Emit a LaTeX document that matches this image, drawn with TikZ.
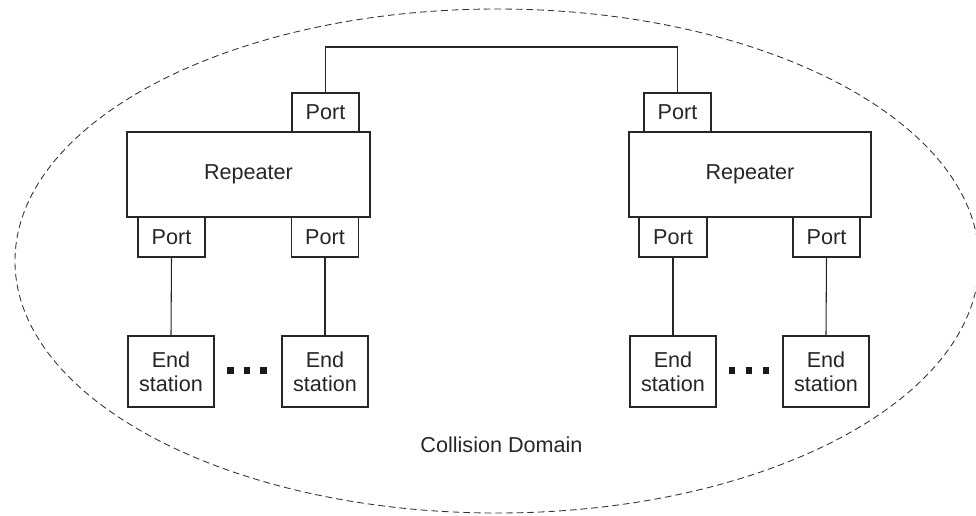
\documentclass[tikz,border=0pt]{standalone}
\usepackage{fontspec}
\setmainfont{Liberation Sans}
\tikzset{
  netbox/.style={draw=black!85, line width=0.8pt, fill=white, inner sep=0pt, align=center,
    text=black!85, font=\fontsize{16.2}{18}\selectfont},
  wh/.style 2 args={minimum width=#1*0.75pt, minimum height=#2*0.75pt},
  netlink/.style={draw=black!85, line width=0.8pt},
  sqdot/.style={fill=black!90, inner sep=0pt, minimum size=5.2pt},
  cdomain/.style={draw=black!80, line width=0.65pt, dash pattern=on 5pt off 3pt}}
\begin{document}
\begin{tikzpicture}[x=0.75pt,y=-0.75pt]
\useasboundingbox (0,0) rectangle (976,515);
% collision domain
\draw[cdomain] (497,261) ellipse [x radius=361.5pt, y radius=189pt];
\node[text=black!85, font=\fontsize{16.2}{18}\selectfont] (cd) at (501.5,445) {Collision Domain};
% left repeater
\node[netbox, wh={243}{85}] (repL) at (248.5,174.5) {Repeater};
\node[netbox, wh={67}{39}] (ptL) at (325.5,112.5) {Port};
\node[netbox, wh={67}{40}] (pL1) at (171.5,237) {Port};
\node[netbox, wh={67}{40}] (pL2) at (325,237) {Port};
\node[netbox, wh={86}{71}] (eL1) at (171,371.5) {End\\station};
\node[netbox, wh={86}{71}] (eL2) at (325,371.5) {End\\station};
\node[sqdot] (dL1) at (230.5,370.5) {};
\node[sqdot] (dL2) at (247,370.5) {};
\node[sqdot] (dL3) at (263.5,370.5) {};
% right repeater
\node[netbox, wh={242}{85}] (repR) at (750,174.5) {Repeater};
\node[netbox, wh={67}{39}] (ptR) at (677.5,112.5) {Port};
\node[netbox, wh={68}{40}] (pR1) at (673,237) {Port};
\node[netbox, wh={67}{40}] (pR2) at (826.5,237) {Port};
\node[netbox, wh={86}{71}] (eR1) at (673,371.5) {End\\station};
\node[netbox, wh={86}{71}] (eR2) at (826,371.5) {End\\station};
\node[sqdot] (dR1) at (732,370.5) {};
\node[sqdot] (dR2) at (749,370.5) {};
\node[sqdot] (dR3) at (766,370.5) {};
% connectors
\draw[netlink] (ptL.north) -- ++(0,-45.5) -| (ptR.north);
\draw[netlink] (pL1.south) -- (eL1.north);
\draw[netlink] (pL2.south) -- (eL2.north);
\draw[netlink] (pR1.south) -- (eR1.north);
\draw[netlink] (pR2.south) -- (eR2.north);
\end{tikzpicture}
\end{document}
